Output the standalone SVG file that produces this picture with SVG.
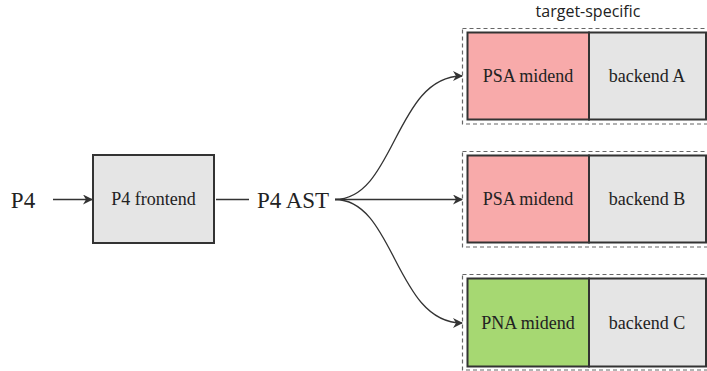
<svg xmlns="http://www.w3.org/2000/svg" width="707" height="371" viewBox="0 0 707 371">
<style>
.t{font-family:"Liberation Serif","DejaVu Serif",serif;fill:#222;text-anchor:middle}
.s{font-size:18px}
.big{font-size:23px}
.box{stroke:#333;stroke-width:2}
.dash{fill:none;stroke:#666;stroke-width:1.2;stroke-dasharray:4 3}
.gray{fill:#e5e5e5}
.pink{fill:#f8aaaa}
.green{fill:#a6d872}
.c{fill:none;stroke:#333;stroke-width:1.3}
</style>
<defs>
<marker id="ah" markerWidth="10" markerHeight="10" refX="9" refY="5" orient="auto" markerUnits="userSpaceOnUse">
<path d="M0,0 L10,5 L0,10 L3,5 Z" fill="#333"/>
</marker>
</defs>
<rect width="707" height="371" fill="#fff"/>
<g id="p4"><text class="t big" x="23" y="208">P4</text></g>
<g id="frontend">
<rect class="box gray" x="93" y="155" width="121" height="88"/>
<text class="t s" x="153.5" y="205">P4 frontend</text>
</g>
<g id="ast"><text class="t big" x="293" y="208">P4 AST</text></g>
<g id="label"><text x="588" y="17" font-family="'Open Sans','Noto Sans',sans-serif" font-size="16" fill="#222" text-anchor="middle">target-specific</text></g>
<g id="targetA">
<rect class="dash" x="462.5" y="28.5" width="250" height="95.5"/>
<rect class="box pink" x="467.5" y="32.5" width="121.5" height="87"/>
<rect class="box gray" x="589" y="32.5" width="117" height="87"/>
<text class="t s" x="528" y="82">PSA midend</text>
<text class="t s" x="647" y="82">backend A</text>
</g>
<g id="targetB">
<rect class="dash" x="462.5" y="151.5" width="250" height="95.5"/>
<rect class="box pink" x="467.5" y="155.5" width="121.5" height="87"/>
<rect class="box gray" x="589" y="155.5" width="117" height="87"/>
<text class="t s" x="528" y="205">PSA midend</text>
<text class="t s" x="647" y="205">backend B</text>
</g>
<g id="targetC">
<rect class="dash" x="462.5" y="274.5" width="250" height="95.5"/>
<rect class="box green" x="467.5" y="278.5" width="121.5" height="88"/>
<rect class="box gray" x="589" y="278.5" width="117" height="88"/>
<text class="t s" x="528" y="329">PNA midend</text>
<text class="t s" x="647" y="329">backend C</text>
</g>
<g id="connectors">
<line class="c" x1="53" y1="199.5" x2="92" y2="199.5" marker-end="url(#ah)"/>
<line class="c" x1="216" y1="199.5" x2="249" y2="199.5"/>
<path class="c" d="M335,199.5 C395,199.5 395,76 462,76" marker-end="url(#ah)"/>
<line class="c" x1="335" y1="199.5" x2="462" y2="199.5" marker-end="url(#ah)"/>
<path class="c" d="M335,199.5 C395,199.5 395,323 462,323" marker-end="url(#ah)"/>
</g>
</svg>
